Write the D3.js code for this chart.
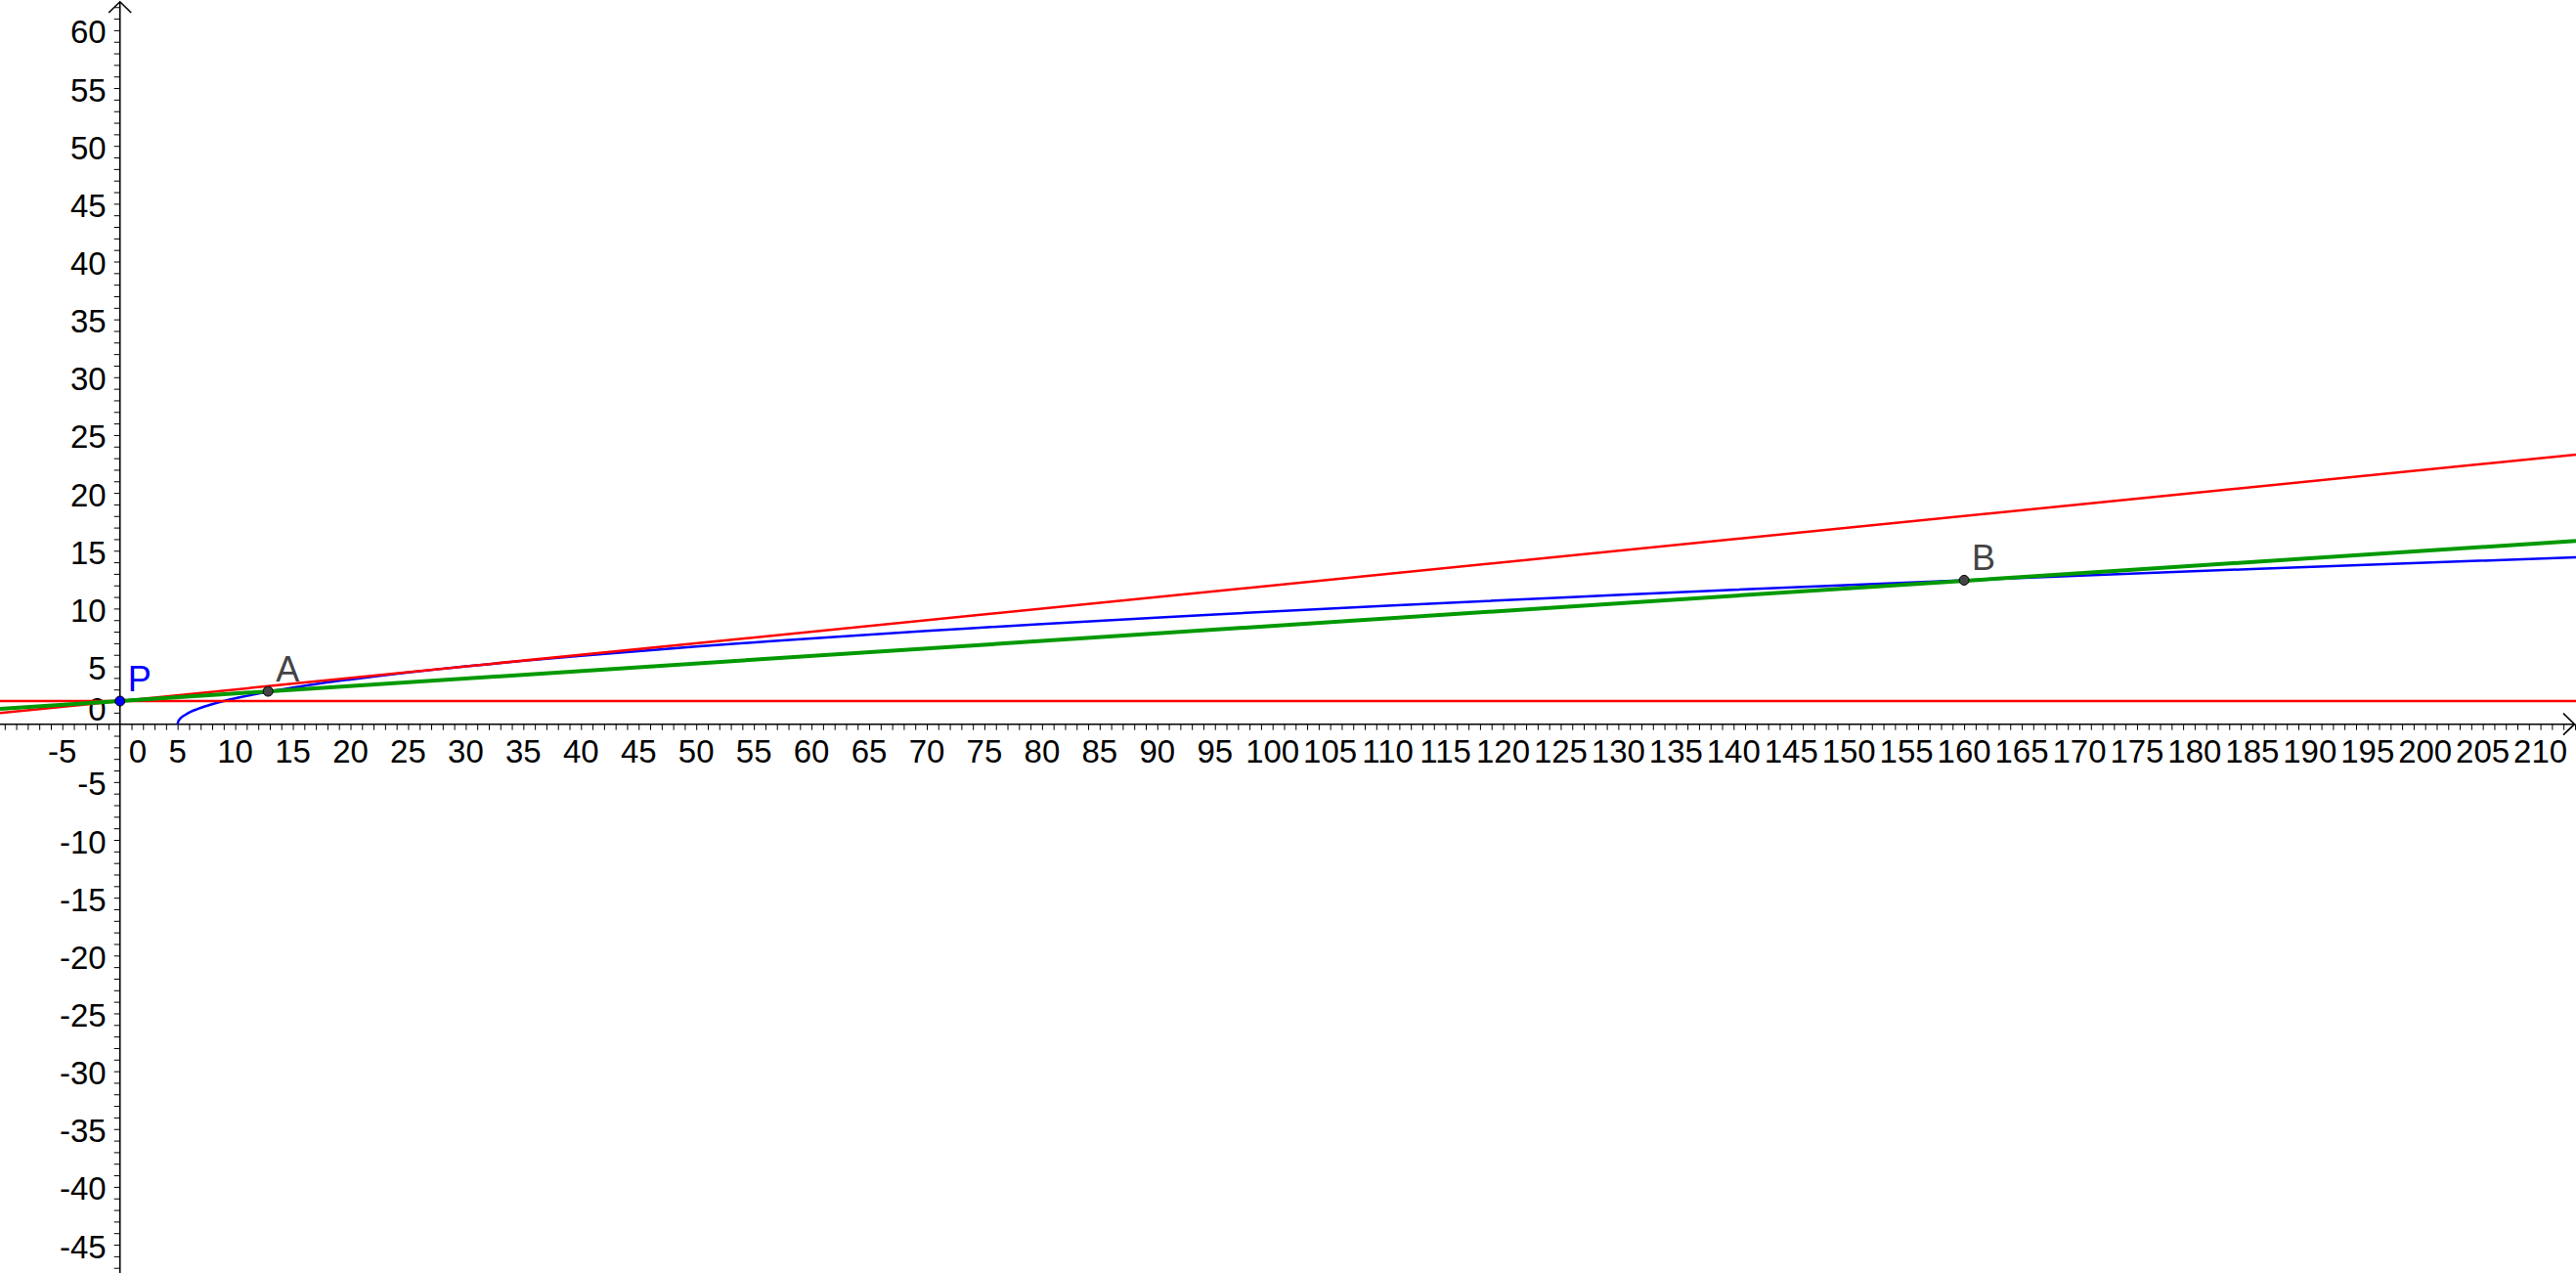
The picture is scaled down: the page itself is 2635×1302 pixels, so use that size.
<!DOCTYPE html>
<html>
<head>
<meta charset="utf-8">
<script src="https://cdn.jsdelivr.net/npm/d3@7"></script>
<style>
  html, body { margin: 0; padding: 0; background: #fff; overflow: hidden; }
  svg { display: block; }
  text { font-family: "Liberation Sans", Arial, sans-serif; }
</style>
</head>
<body>
<svg id="chart" width="2635" height="1302"></svg>
<script>
// ---------- data ----------
const xLabelValues = [-5,0,5,10,15,20,25,30,35,40,45,50,55,60,65,70,75,80,85,90,95,100,105,110,115,120,125,130,135,140,145,150,155,160,165,170,175,180,185,190,195,200,205,210];
const yLabelValues = [60,55,50,45,40,35,30,25,20,15,10,5,0,-5,-10,-15,-20,-25,-30,-35,-40,-45];

// straight lines y = intercept + slope * x
const lineNames = ["tangent", "horizontal", "secant"];
const lineSlopes = [0.1, 0, 0.065];
const lineIntercepts = [2, 2, 2];

// blue curve
const curveX = [5, 5.05, 5.15, 5.3, 5.5, 5.8, 6.2, 6.7, 7.3, 8, 9, 10, 11.5, 13, 15, 17.5, 20, 22.5, 25, 27.5, 30, 32.5, 35, 40, 45, 50, 60, 70, 80, 95, 110, 125, 140, 160, 185, 214];
const curveY = [0, 0.22, 0.39, 0.55, 0.71, 0.89, 1.1, 1.3, 1.52, 1.73, 2, 2.24, 2.55, 2.83, 3.16, 3.54, 3.87, 4.18, 4.47, 4.74, 5, 5.24, 5.48, 5.92, 6.32, 6.71, 7.42, 8.06, 8.66, 9.49, 10.25, 10.95, 11.62, 12.45, 13.42, 14.46];

// labelled points
const pointNames = ["P", "A", "B"];
const pointX = [0, 12.85, 160];
const pointY = [2, 2.84, 12.45];

// ---------- styles ----------
const lineColors = ["#ff0000", "#ff0000", "#009900"];
const lineWidths = [2.5, 2.5, 4];
const pointFills = ["#0000ff", "#444444", "#444444"];
const pointLabelColors = ["#0000ff", "#444444", "#444444"];

// ---------- scales ----------
const W = 2635, H = 1302;
const x0px = 122.7, y0px = 740.7, sx = 11.79, sy = 11.83;
const x = d3.scaleLinear().domain([-x0px / sx, (W - x0px) / sx]).range([0, W]);
const y = d3.scaleLinear().domain([y0px / sy, -(H - y0px) / sy]).range([0, H]);

const svg = d3.select("#chart");

// ---------- axes ----------
const xMinor = d3.range(Math.ceil(x.domain()[0]), Math.floor(x.domain()[1]) + 1).filter(v => v !== 0);
const yMinor = d3.range(Math.ceil(y.domain()[1]), Math.floor(y.domain()[0]) + 1).filter(v => v !== 0);

const gx = svg.append("g").attr("transform", `translate(0,${y(0)})`)
  .call(d3.axisBottom(x).tickValues(xMinor).tickSize(6).tickFormat(""));
gx.select(".domain").remove();
gx.selectAll(".tick line").attr("stroke", "#000").attr("stroke-width", 1);

const gy = svg.append("g").attr("transform", `translate(${x(0)},0)`)
  .call(d3.axisLeft(y).tickValues(yMinor).tickSize(6).tickFormat(""));
gy.select(".domain").remove();
gy.selectAll(".tick line").attr("stroke", "#000").attr("stroke-width", 1);

// axis lines with open arrows
const axisG = svg.append("g").attr("stroke", "#000").attr("stroke-width", 1.6).attr("fill", "none");
axisG.append("line").attr("x1", 0).attr("x2", W - 1).attr("y1", y(0)).attr("y2", y(0));
axisG.append("path").attr("d", `M${W - 13},${y(0) - 11} L${W - 1.5},${y(0)} L${W - 13},${y(0) + 11}`);
axisG.append("line").attr("x1", x(0)).attr("x2", x(0)).attr("y1", 2).attr("y2", H);
axisG.append("path").attr("d", `M${x(0) - 11.5},${13} L${x(0)},${1.8} L${x(0) + 11.5},${13}`);

// tick labels
svg.append("g").selectAll("text").data(xLabelValues).join("text")
  .attr("x", d => d === 0 ? x(0) + 9 : x(d))
  .attr("y", y(0) + 39.5)
  .attr("text-anchor", d => d === 0 ? "start" : "middle")
  .attr("font-size", 33)
  .attr("fill", "#000")
  .text(d => String(d));

svg.append("g").selectAll("text").data(yLabelValues).join("text")
  .attr("x", x(0) - 14)
  .attr("y", d => d === 0 ? y(0) - 3.4 : y(d) + 13.5)
  .attr("text-anchor", "end")
  .attr("font-size", 33)
  .attr("fill", "#000")
  .text(d => String(d));

// ---------- blue curve ----------
const curvePts = curveX.map((v, i) => [v, curveY[i]]);
svg.append("path")
  .datum(curvePts)
  .attr("fill", "none")
  .attr("stroke", "#0000ff")
  .attr("stroke-width", 2.5)
  .attr("d", d3.line().x(d => x(d[0])).y(d => y(d[1])).curve(d3.curveCatmullRom.alpha(0.5)));

// ---------- straight lines ----------
const [xa, xb] = x.domain();
svg.append("g").selectAll("line").data(lineNames).join("line")
  .attr("x1", (d, i) => x(xa))
  .attr("x2", (d, i) => x(xb))
  .attr("y1", (d, i) => y(lineIntercepts[i] + lineSlopes[i] * xa))
  .attr("y2", (d, i) => y(lineIntercepts[i] + lineSlopes[i] * xb))
  .attr("stroke", (d, i) => lineColors[i])
  .attr("stroke-width", (d, i) => lineWidths[i]);

// ---------- points ----------
const pg = svg.append("g");
pg.selectAll("circle").data(pointNames).join("circle")
  .attr("cx", (d, i) => x(pointX[i]))
  .attr("cy", (d, i) => y(pointY[i]))
  .attr("r", 5)
  .attr("fill", (d, i) => pointFills[i])
  .attr("stroke", "#000")
  .attr("stroke-width", 1);

pg.selectAll("text").data(pointNames).join("text")
  .attr("x", (d, i) => x(pointX[i]) + 8)
  .attr("y", (d, i) => y(pointY[i]) - 10)
  .attr("font-size", 36)
  .attr("fill", (d, i) => pointLabelColors[i])
  .text(d => d);
</script>
</body>
</html>
